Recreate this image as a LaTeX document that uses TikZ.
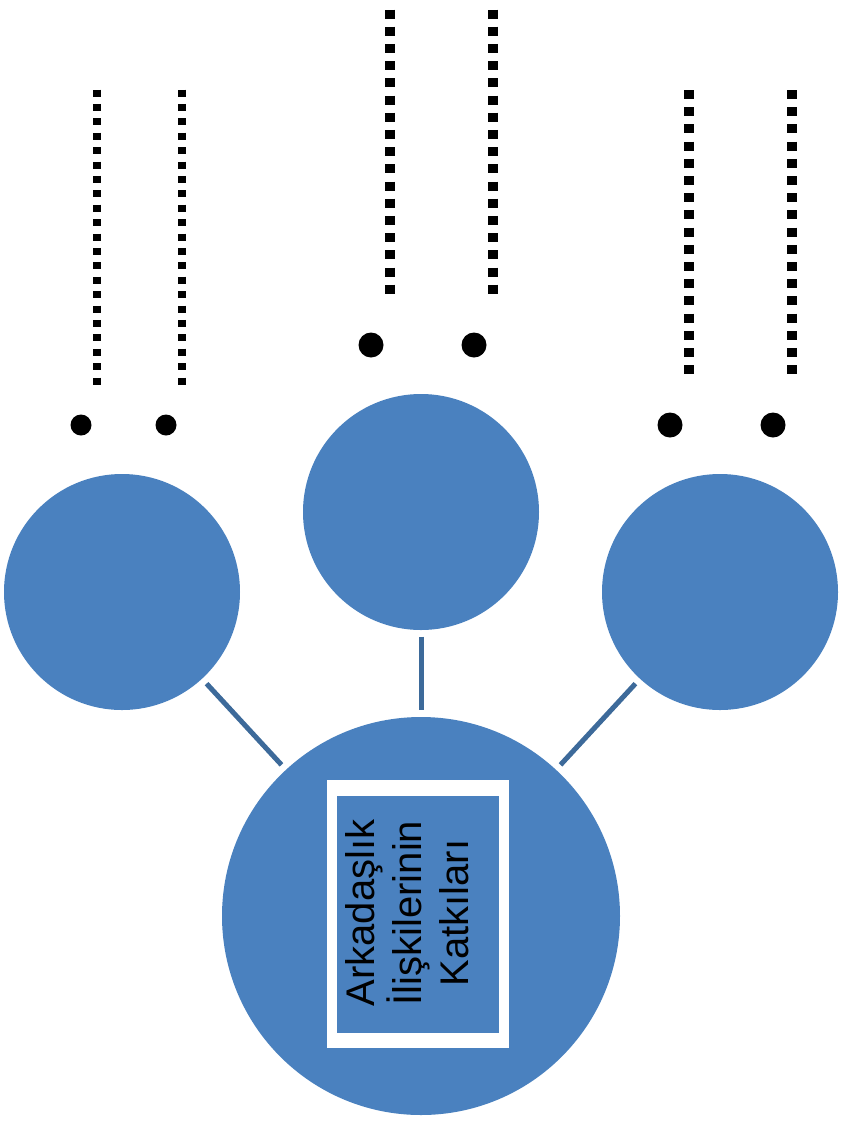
\documentclass[tikz,border=0pt]{standalone}
\usepackage{fontspec}
\setmainfont{Liberation Sans}
\definecolor{cfill}{HTML}{4A81BF}
\definecolor{cline}{HTML}{3D6A9A}
\tikzset{
  bubble/.style={circle, fill=cfill, inner sep=0pt},
  link/.style={draw=cline, line width=5pt, shorten <=6.5pt, shorten >=6.5pt},
  dotsS/.style={line width=8pt, dash pattern=on 7pt off 7.4pt},
  dotsL/.style={line width=10pt, dash pattern=on 9pt off 8.2pt},
}
\begin{document}
\begin{tikzpicture}[x=1pt, y=-1pt]
\useasboundingbox (0,0) rectangle (843,1122);
% circles
\node[bubble, minimum size=236pt] (L) at (122,592) {};
\node[bubble, minimum size=236pt] (M) at (421,512) {};
\node[bubble, minimum size=236pt] (R) at (720,592) {};
\node[bubble, minimum size=398pt] (C) at (421,916) {};
% connectors
\draw[link] (L) -- (C);
\draw[link] (M) -- (C);
\draw[link] (R) -- (C);
% text box
\fill[white] (327,780) rectangle (509,1048);
\fill[cfill] (337,796) rectangle (499,1033);
\node[rotate=90, align=center, font=\fontsize{40}{47}\selectfont, inner sep=0pt] (T) at (407,913)
  {Arkadaşlık\\İlişkilerinin\\Katkıları};
% dotted columns, left
\draw[dotsS] (97,89.5) -- (97,385);
\draw[dotsS] (182,89.5) -- (182,385);
\fill (81,425) circle (10.5pt);
\fill (166,425) circle (10.5pt);
% middle
\draw[dotsL] (390,9.5) -- (390,294);
\draw[dotsL] (493,9.5) -- (493,294);
\fill (371,345) circle (12.5pt);
\fill (474,345) circle (12.5pt);
% right
\draw[dotsL] (689,90) -- (689,375);
\draw[dotsL] (792,90) -- (792,375);
\fill (670,425) circle (12.5pt);
\fill (773,425) circle (12.5pt);
\end{tikzpicture}
\end{document}
